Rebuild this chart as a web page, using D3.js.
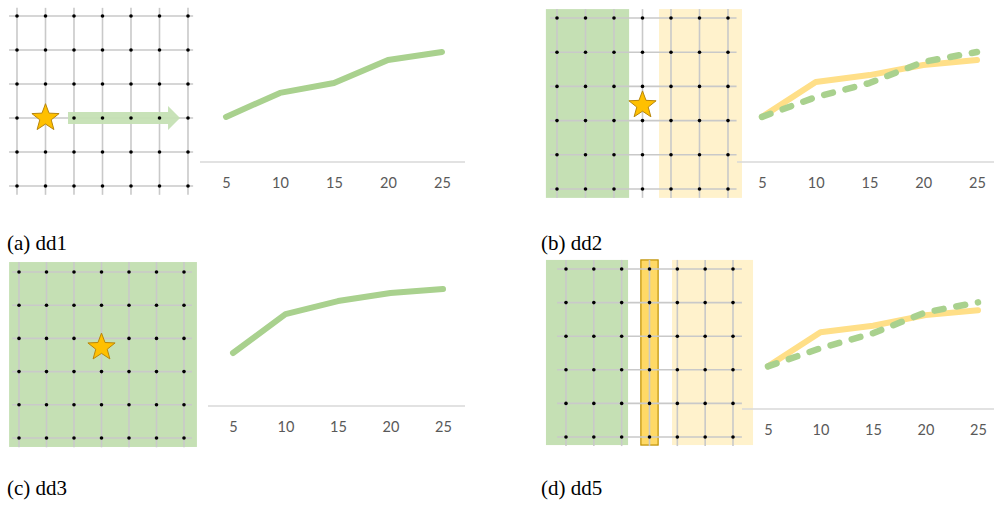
<!DOCTYPE html>
<html><head><meta charset="utf-8">
<script src="https://cdn.jsdelivr.net/npm/d3@7"></script>
<style>body{margin:0;background:#fff} svg{display:block}</style>
</head><body>
<svg id="c" width="994" height="506"></svg>
<script>
// ---------- data ----------
const xValues = [5, 10, 15, 20, 25];
const xTickLabels = ["5", "10", "15", "20", "25"];
const dd1Line   = [2.05, 3.14, 3.59, 4.64, 5.00];
const dd2Yellow = [2.05, 3.64, 3.95, 4.41, 4.64];
const dd2Green  = [2.05, 2.95, 3.59, 4.55, 5.00];
const dd3Line   = [2.41, 4.18, 4.77, 5.14, 5.32];
const dd5Yellow = [2.00, 3.60, 3.90, 4.40, 4.63];
const dd5Green  = [2.00, 2.85, 3.55, 4.53, 5.00];
const gridCols = d3.range(7);
const gridRows = d3.range(6);
const captions = ["(a) dd1", "(b) dd2", "(c) dd3", "(d) dd5"];

// ---------- style ----------
const GREEN_LINE = "#a9d18e", YELLOW_LINE = "#ffdf88";
const GREEN_BAND = "#c5e0b4", YELLOW_BAND = "#fff2cc";
const GRID = "#c9c9c9";

// ---------- layout ----------
const panels = [
  { grid: {x0:17, x1:188, y0:16, y1:186, h:[-0.28,6.18], v:[-0.24,5.26]},
    bands: [], star: {c:1, r:3}, arrow: {c0:1.79, c1:5.3, tip:5.72, r:3},
    chart: {x0:226, x1:442, base:162, top:30, axis:[200,465]},
    series: [{v:dd1Line, color:GREEN_LINE, dash:null}],
    caption: {x:7, y:250} },
  { grid: {x0:557, x1:728, y0:18, y1:189, h:[-0.25,6.3], v:[-0.26,5.26]},
    bands: [{c0:-0.39, c1:2.53, r0:-0.26, r1:5.26, fill:GREEN_BAND},
            {c0:3.58, c1:6.49, r0:-0.26, r1:5.26, fill:YELLOW_BAND}],
    star: {c:3, r:2.55},
    chart: {x0:762, x1:977, base:162, top:30, axis:[737,994]},
    series: [{v:dd2Yellow, color:YELLOW_LINE, dash:null},
             {v:dd2Green, color:GREEN_LINE, dash:"9,13"}],
    caption: {x:541, y:250} },
  { grid: {x0:19, x1:184, y0:272, y1:438, h:[-0.25,6.29], v:[-0.3,5.28]},
    bands: [{c0:-0.36, c1:6.47, r0:-0.3, r1:5.27, fill:GREEN_BAND}],
    star: {c:3, r:2.27},
    chart: {x0:233, x1:443, base:406, top:274, axis:[208,465]},
    series: [{v:dd3Line, color:GREEN_LINE, dash:null}],
    caption: {x:7, y:495} },
  { grid: {x0:566, x1:733, y0:269, y1:437, h:[-0.32,6.32], v:[-0.27,5.27]},
    bands: [{c0:-0.72, c1:2.23, r0:-0.27, r1:5.24, fill:GREEN_BAND},
            {c0:3.81, c1:6.72, r0:-0.27, r1:5.24, fill:YELLOW_BAND},
            {c0:2.69, c1:3.31, r0:-0.27, r1:5.24, fill:"#ffd966", stroke:"#bf9000"}],
    star: null,
    chart: {x0:768, x1:978, base:409, top:281, axis:[742,994]},
    series: [{v:dd5Yellow, color:YELLOW_LINE, dash:null},
             {v:dd5Green, color:GREEN_LINE, dash:"9,13"}],
    caption: {x:541, y:495} }
];

const svg = d3.select("#c");

function starPath(cx, cy, R, r) {
  const pts = [];
  for (let i = 0; i < 10; i++) {
    const a = -Math.PI / 2 + i * Math.PI / 5;
    const rad = i % 2 === 0 ? R : r;
    pts.push([cx + rad * Math.cos(a), cy + rad * Math.sin(a)]);
  }
  return d3.line()(pts) + "Z";
}

panels.forEach((p, i) => {
  const g = svg.append("g");
  const gx = d3.scaleLinear().domain([0, 6]).range([p.grid.x0, p.grid.x1]);
  const gy = d3.scaleLinear().domain([0, 5]).range([p.grid.y0, p.grid.y1]);

  // bands
  g.selectAll("rect.band").data(p.bands).join("rect")
    .attr("x", d => gx(d.c0)).attr("width", d => gx(d.c1) - gx(d.c0))
    .attr("y", d => gy(d.r0)).attr("height", d => gy(d.r1) - gy(d.r0))
    .attr("fill", d => d.fill)
    .attr("stroke", d => d.stroke || "none").attr("stroke-width", 1.2);

  // grid lines
  g.selectAll("line.h").data(gridRows).join("line")
    .attr("x1", gx(p.grid.h[0])).attr("x2", gx(p.grid.h[1]))
    .attr("y1", d => gy(d)).attr("y2", d => gy(d))
    .attr("stroke", GRID).attr("stroke-width", 1.6);
  g.selectAll("line.v").data(gridCols).join("line")
    .attr("y1", gy(p.grid.v[0])).attr("y2", gy(p.grid.v[1]))
    .attr("x1", d => gx(d)).attr("x2", d => gx(d))
    .attr("stroke", GRID).attr("stroke-width", 1.6);

  // arrow
  if (p.arrow) {
    const a = p.arrow, y = gy(a.r);
    const pts = [[gx(a.c0), y - 6], [gx(a.c1), y - 6], [gx(a.c1), y - 12], [gx(a.tip), y],
                 [gx(a.c1), y + 12], [gx(a.c1), y + 6], [gx(a.c0), y + 6]];
    g.append("path").attr("d", d3.line()(pts) + "Z")
      .attr("fill", GREEN_BAND).attr("opacity", 0.95);
  }

  // dots
  const nodes = gridRows.flatMap(r => gridCols.map(c => ({r, c})));
  g.selectAll("circle.n").data(nodes).join("circle")
    .attr("cx", d => gx(d.c)).attr("cy", d => gy(d.r)).attr("r", 1.8).attr("fill", "#000");

  // star
  if (p.star) {
    g.append("path").attr("d", starPath(gx(p.star.c), gy(p.star.r), 14.3, 6))
      .attr("fill", "#ffc000").attr("stroke", "#b8860b").attr("stroke-width", 1);
  }

  // line chart
  const c = p.chart;
  const x = d3.scaleLinear().domain([5, 25]).range([c.x0, c.x1]);
  const y = d3.scaleLinear().domain([0, 6]).range([c.base, c.top]);
  g.append("line").attr("x1", c.axis[0]).attr("x2", c.axis[1])
    .attr("y1", c.base).attr("y2", c.base).attr("stroke", "#d9d9d9").attr("stroke-width", 1.3);
  const ax = g.append("g").attr("transform", `translate(0,${c.base})`)
    .call(d3.axisBottom(x).tickValues(xValues).tickFormat((d, k) => xTickLabels[k])
      .tickSize(0).tickPadding(16));
  ax.select(".domain").remove();
  ax.selectAll("text").attr("font-family", "Lato, 'Open Sans', sans-serif")
    .attr("font-size", 14.5).attr("fill", "#595959");

  const line = d3.line().x((d, k) => x(xValues[k])).y(d => y(d));
  p.series.forEach(s => {
    g.append("path").attr("d", line(s.v)).attr("fill", "none")
      .attr("stroke", s.color).attr("stroke-width", s.dash ? 6.5 : 6)
      .attr("stroke-linecap", "round").attr("stroke-linejoin", "round")
      .attr("stroke-dasharray", s.dash);
  });

  // caption
  svg.append("text").attr("x", p.caption.x).attr("y", p.caption.y)
    .attr("font-family", "'Liberation Serif', 'Times New Roman', serif")
    .attr("font-size", 21).attr("fill", "#000").text(captions[i]);
});
</script>
</body></html>
